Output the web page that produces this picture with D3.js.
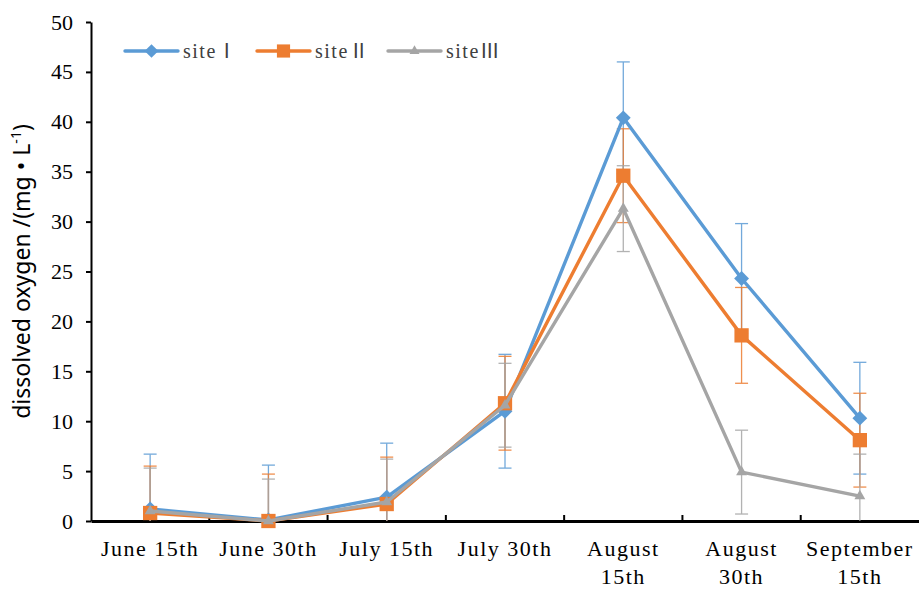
<!DOCTYPE html>
<html>
<head>
<meta charset="utf-8">
<script src="https://cdn.jsdelivr.net/npm/d3@7"></script>
<style>
  html, body { margin: 0; padding: 0; background: #fff; }
  svg { display: block; }
</style>
</head>
<body>
<div id="chart"></div>
<script>
// ---- data ----
const dates = ["June 15th", "June 30th", "July 15th", "July 30th", "August 15th", "August 30th", "September 15th"];
const dateLines = [["June 15th"], ["June 30th"], ["July 15th"], ["July 30th"], ["August", "15th"], ["August", "30th"], ["September", "15th"]];
const seriesNames = ["site\u2160", "site\u2161", "site\u2162"];
const site1 = [1.2, 0.1, 2.4, 11.0, 40.4, 24.3, 10.3];
const err1  = [5.5, 5.5, 5.4, 5.7, 5.6, 5.5, 5.6];
const site2 = [0.8, 0.0, 1.7, 11.8, 34.6, 18.6, 8.1];
const err2  = [4.7, 4.7, 4.7, 4.7, 4.7, 4.8, 4.7];
const site3 = [1.0, 0.0, 1.9, 11.6, 31.3, 4.9, 2.5];
const err3  = [4.3, 4.2, 4.3, 4.2, 4.3, 4.2, 4.2];
const yTicks = [0, 5, 10, 15, 20, 25, 30, 35, 40, 45, 50];

const colors = ["#5B9BD5", "#ED7D31", "#A5A5A5"];
const symbols = [d3.symbolDiamond2, d3.symbolSquare2, d3.symbolTriangle2];
const symSize = [140, 260, 85];

const W = 919, H = 589;
const plot = { left: 91, right: 919, top: 22, bottom: 521 };

const svg = d3.select("#chart").append("svg")
  .attr("width", W).attr("height", H);

const x = d3.scaleBand().domain(dates).range([plot.left, plot.right]).padding(0);
const cx = d => x(d) + x.bandwidth() / 2;
const y = d3.scaleLinear().domain([0, 50]).range([plot.bottom, plot.top]);

svg.append("defs").append("clipPath").attr("id", "plotclip")
  .append("rect")
  .attr("x", plot.left).attr("y", plot.top - 10)
  .attr("width", plot.right - plot.left).attr("height", plot.bottom - plot.top + 10);

// ---- axes ----
const yAxis = svg.append("g")
  .attr("transform", `translate(${plot.left},0)`)
  .call(d3.axisLeft(y).tickValues(yTicks).tickSize(5).tickSizeOuter(0).tickPadding(13));
yAxis.select(".domain").attr("stroke", "#000").attr("stroke-width", 2);
yAxis.selectAll(".tick line").attr("stroke", "#000").attr("stroke-width", 2);
yAxis.selectAll("text")
  .style("font-family", "'Liberation Serif', serif")
  .style("font-size", "22px")
  .attr("fill", "#000");

const xAxis = svg.append("g")
  .attr("transform", `translate(0,${plot.bottom})`)
  .call(d3.axisBottom(x).tickSize(0).tickSizeOuter(0).tickFormat(""));
xAxis.select(".domain").attr("stroke", "#000").attr("stroke-width", 3);
xAxis.selectAll(".tick line").remove();
// category boundary ticks pointing into the plot
const bounds = dates.slice(1).map(d => x(d));
xAxis.selectAll(".bt").data(bounds).enter().append("line")
  .attr("x1", d => d).attr("x2", d => d)
  .attr("y1", 0).attr("y2", -6)
  .attr("stroke", "#000").attr("stroke-width", 2);

const xl = svg.append("g");
dateLines.forEach((lines, i) => {
  const t = xl.append("text")
    .attr("x", cx(dates[i]))
    .attr("y", 556)
    .attr("text-anchor", "middle")
    .style("font-family", "'Liberation Serif', serif")
    .style("font-size", "22px")
    .style("letter-spacing", "1.5px")
    .attr("fill", "#000");
  lines.forEach((s, j) => {
    t.append("tspan").attr("x", cx(dates[i])).attr("dy", j === 0 ? 0 : 28).text(s);
  });
});

// y label
svg.append("text")
  .attr("transform", `translate(30,${(plot.top + plot.bottom) / 2}) rotate(-90)`)
  .attr("text-anchor", "middle")
  .style("font-family", "'Noto Sans', 'DejaVu Sans', sans-serif")
  .style("font-size", "23px")
  .attr("fill", "#000")
  .html("dissolved oxygen /(mg \u2022 L<tspan dy='-9' font-size='14'>-1</tspan><tspan dy='9'>)</tspan>");

// ---- series ----
const series = [
  { name: seriesNames[0], vals: site1, errs: err1 },
  { name: seriesNames[1], vals: site2, errs: err2 },
  { name: seriesNames[2], vals: site3, errs: err3 }
];

const gErr = svg.append("g").attr("clip-path", "url(#plotclip)");
series.forEach((s, k) => {
  const pts = dates.map((d, i) => ({ d, v: s.vals[i], e: s.errs[i] }));
  const g = gErr.append("g").attr("stroke", colors[k]).attr("stroke-width", 1.3).attr("opacity", 0.85);
  g.selectAll(".eb").data(pts).enter().append("line")
    .attr("x1", p => cx(p.d)).attr("x2", p => cx(p.d))
    .attr("y1", p => y(p.v - p.e)).attr("y2", p => y(p.v + p.e));
  g.selectAll(".ct").data(pts).enter().append("line")
    .attr("x1", p => cx(p.d) - 6.5).attr("x2", p => cx(p.d) + 6.5)
    .attr("y1", p => y(p.v + p.e)).attr("y2", p => y(p.v + p.e));
  g.selectAll(".cb").data(pts).enter().append("line")
    .attr("x1", p => cx(p.d) - 6.5).attr("x2", p => cx(p.d) + 6.5)
    .attr("y1", p => y(p.v - p.e)).attr("y2", p => y(p.v - p.e));
});

const line = d3.line().x(p => cx(p.d)).y(p => y(p.v));
series.forEach((s, k) => {
  const pts = dates.map((d, i) => ({ d, v: s.vals[i] }));
  svg.append("path").datum(pts)
    .attr("fill", "none")
    .attr("stroke", colors[k])
    .attr("stroke-width", 3.4)
    .attr("stroke-linejoin", "round")
    .attr("d", line);
  svg.selectAll(".m" + k).data(pts).enter().append("path")
    .attr("transform", p => `translate(${cx(p.d)},${y(p.v)})`)
    .attr("d", d3.symbol().type(symbols[k]).size(symSize[k]))
    .attr("fill", colors[k]);
});

// ---- legend ----
const legX = [125, 257, 388];
const leg = svg.append("g");
series.forEach((s, k) => {
  const g = leg.append("g").attr("transform", `translate(${legX[k]},51)`);
  g.append("line").attr("x1", 0).attr("x2", 53).attr("y1", 0).attr("y2", 0)
    .attr("stroke", colors[k]).attr("stroke-width", 3.4).attr("stroke-linecap", "round");
  g.append("path").attr("transform", "translate(26.5,0)")
    .attr("d", d3.symbol().type(symbols[k]).size(symSize[k] * 0.85))
    .attr("fill", colors[k]);
  g.append("text").attr("x", 58).attr("y", 7)
    .style("font-family", "'Liberation Serif', 'Noto Sans CJK SC', serif")
    .style("font-size", "20px")
    .style("letter-spacing", "1.5px")
    .attr("fill", "#404040")
    .text(s.name);
});
</script>
</body>
</html>
